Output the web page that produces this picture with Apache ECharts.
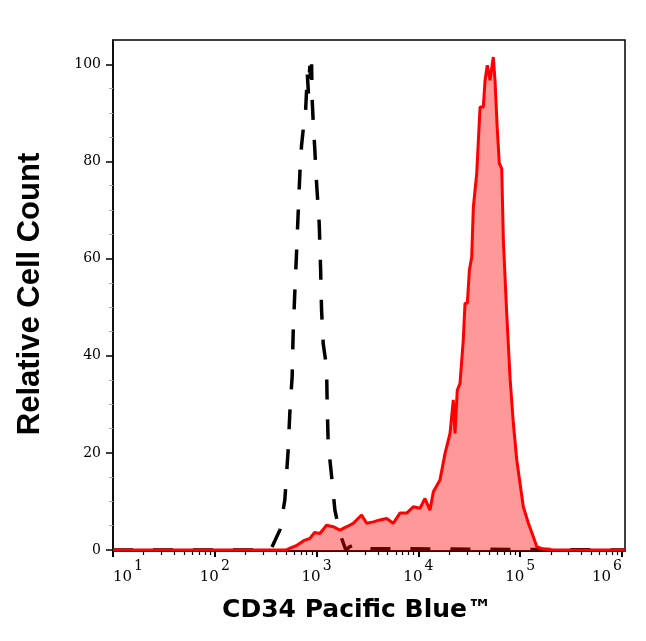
<!DOCTYPE html>
<html>
<head>
<meta charset="utf-8">
<script src="https://cdn.jsdelivr.net/npm/echarts@6/dist/echarts.min.js"></script>
<style>html,body{margin:0;padding:0;background:#fff}#c{width:646px;height:641px}</style>
</head>
<body>
<div id="c"></div>
<script>
// x values are log10 of fluorescence intensity
const isoX = [1.0, 2.50, 2.557, 2.639, 2.688, 2.721, 2.737, 2.760, 2.770, 2.787, 2.803, 2.819, 2.836, 2.852, 2.868, 2.892, 2.902, 2.908, 2.92, 2.934, 2.944, 2.951, 2.956, 2.967, 2.983, 3.000, 3.026, 3.039, 3.049, 3.065, 3.098, 3.104, 3.114, 3.148, 3.180, 3.229, 3.288, 3.327, 3.376, 3.426, 6.03];
const isoY = [0, 0, 0.4, 4.1, 10.3, 20.6, 28.2, 35.7, 44.7, 53.5, 61.1, 69.3, 77.6, 83.2, 86.4, 90.5, 94.7, 98.4, 94, 99.7, 96, 100, 93, 88.1, 82.3, 75.5, 67.2, 58.3, 49.4, 42.5, 37.7, 30.2, 22.0, 15.1, 8.2, 3.4, 0, 0.7, 1.1, 0.3, 0];

const cd34X = [1.0, 2.70, 2.74, 2.80, 2.836, 2.88, 2.934, 2.98, 3.033, 3.098, 3.163, 3.229, 3.295, 3.360, 3.442, 3.492, 3.557, 3.622, 3.688, 3.753, 3.819, 3.885, 3.950, 4.016, 4.065, 4.114, 4.147, 4.212, 4.262, 4.311, 4.343, 4.360, 4.382, 4.409, 4.441, 4.458, 4.481, 4.501, 4.524, 4.540, 4.573, 4.606, 4.638, 4.655, 4.677, 4.704, 4.736, 4.753, 4.776, 4.795, 4.819, 4.835, 4.868, 4.902, 4.933, 4.967, 4.999, 5.031, 5.081, 5.130, 5.163, 5.228, 5.326, 6.03];
const cd34Y = [0, 0, 0.4, 0.9, 1.4, 2.0, 2.4, 3.6, 3.4, 5.1, 4.8, 4.1, 4.8, 5.5, 7.2, 5.5, 5.8, 6.2, 6.5, 5.5, 7.6, 7.6, 8.9, 8.6, 10.6, 8.2, 12.0, 14.4, 19.9, 24.0, 30.9, 24.0, 32.9, 34.3, 43.2, 50.8, 50.8, 57.6, 60.3, 70.6, 77.5, 91.2, 91.2, 96.7, 99.8, 96.7, 101.5, 96.7, 86.4, 79.6, 78.5, 63.8, 48.7, 35.0, 26.1, 18.5, 13.7, 8.9, 5.5, 2.7, 0.7, 0.2, 0, 0];

const xMajor = [1, 2, 3, 4, 5, 6];
const yMajor = [0, 20, 40, 60, 80, 100];
const yMinor = [5, 10, 15, 25, 30, 35, 45, 50, 55, 65, 70, 75, 85, 90, 95];
const xMinor = [];
for (let d = 1; d <= 6; d++) for (let k = 2; k <= 9; k++) { const v = d + Math.log10(k); if (v <= 6.03) xMinor.push(v); }

const xTitle = 'CD34 Pacific Blue™';
const yTitle = 'Relative Cell Count';

const chart = echarts.init(document.getElementById('c'), null, {renderer: 'canvas'});
const gridPos = {left: 113, right: 21, top: 40, bottom: 90};
chart.setOption({
  animation: false,
  backgroundColor: '#fff',
  grid: Object.assign({show: true, borderColor: '#000', borderWidth: 1.5, backgroundColor: 'transparent'}, gridPos),
  xAxis: [
    {
      type: 'value', min: 1, max: 6.03, position: 'bottom',
      axisLine: {show: true, onZero: false, lineStyle: {color: '#000', width: 1.5}},
      splitLine: {show: false},
      axisTick: {show: true, customValues: xMajor, length: 6, lineStyle: {color: '#000', width: 2}},
      axisLabel: {
        show: true, customValues: xMajor, margin: 6,
        alignMinLabel: 'left', alignMaxLabel: 'right',
        formatter: v => '{b|10}{s|' + Math.round(v) + '}',
        rich: {
          b: {fontFamily: 'DejaVu Serif', fontSize: 15, color: '#000', padding: [13, 0, 0, 0]},
          s: {fontFamily: 'DejaVu Serif', fontSize: 14, color: '#000', padding: [0, 0, 10, 2]}
        }
      }
    },
    {
      type: 'value', min: 1, max: 6.03, position: 'bottom',
      axisLine: {show: false, onZero: false},
      splitLine: {show: false},
      axisTick: {show: true, customValues: xMinor, length: 4, lineStyle: {color: '#000', width: 1.2}},
      axisLabel: {show: false}
    }
  ],
  yAxis: [
    {
      type: 'value', min: -0.2, max: 105, position: 'left',
      axisLine: {show: true, onZero: false, lineStyle: {color: '#000', width: 1.5}},
      splitLine: {show: false},
      axisTick: {show: true, customValues: yMajor, length: 7, lineStyle: {color: '#000', width: 1.5}},
      axisLabel: {show: true, customValues: yMajor, margin: 12, fontFamily: 'DejaVu Serif', fontSize: 14, color: '#000'}
    },
    {
      type: 'value', min: -0.2, max: 105, position: 'left',
      axisLine: {show: false, onZero: false},
      splitLine: {show: false},
      axisTick: {show: true, customValues: yMinor, length: 4, lineStyle: {color: '#aaa', width: 1}},
      axisLabel: {show: false}
    }
  ],
  series: [
    {
      type: 'line', name: 'Isotype', xAxisIndex: 0, yAxisIndex: 0,
      data: isoX.map((x, i) => [x, isoY[i]]),
      showSymbol: false, symbol: 'none', smooth: false, z: 2,
      lineStyle: {color: '#000', width: 3.5, type: [20, 20]}
    },
    {
      type: 'line', name: 'CD34', xAxisIndex: 0, yAxisIndex: 0,
      data: cd34X.map((x, i) => [x, cd34Y[i]]),
      showSymbol: false, symbol: 'none', smooth: false, z: 3,
      lineStyle: {color: '#ff0000', width: 3},
      areaStyle: {color: 'rgba(255,0,0,0.4)', opacity: 1, origin: 'start'}
    }
  ],
  graphic: [
    {type: 'text', x: 357, y: 610, style: {text: xTitle, x: 0, y: 0, align: 'center', verticalAlign: 'middle', font: 'bold 25px "DejaVu Sans"', fill: '#000'}},
    {type: 'text', rotation: Math.PI / 2, x: 30, y: 294, style: {text: yTitle, x: 0, y: 0, align: 'center', verticalAlign: 'middle', font: 'bold 31px "Liberation Sans"', fill: '#000'}}
  ]
});
</script>
</body>
</html>
